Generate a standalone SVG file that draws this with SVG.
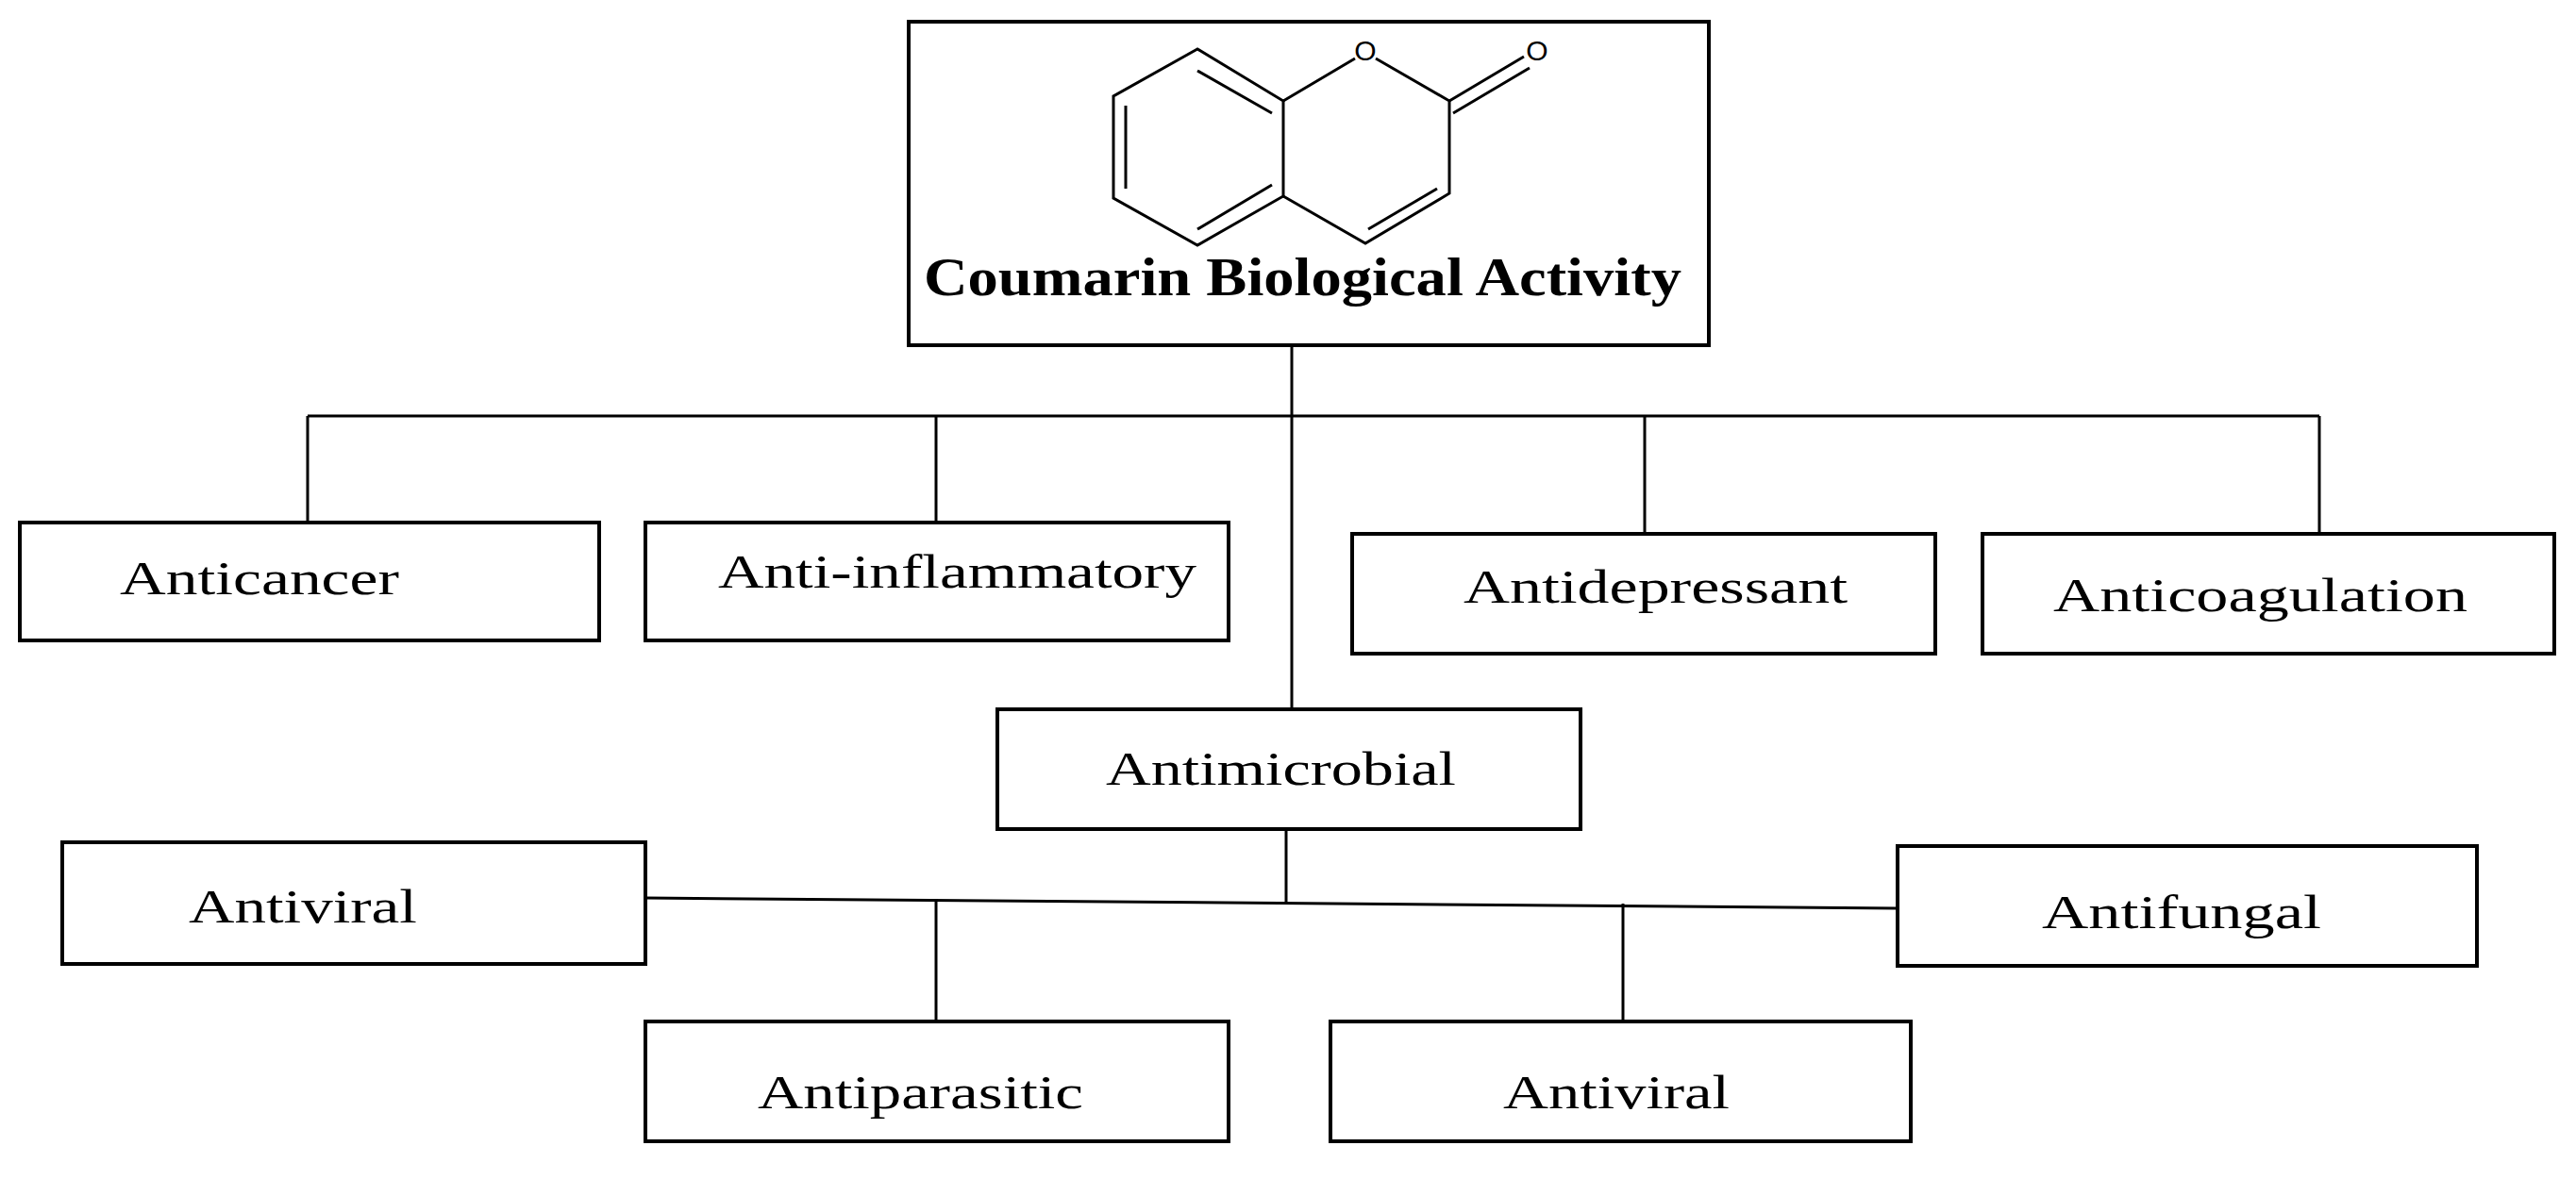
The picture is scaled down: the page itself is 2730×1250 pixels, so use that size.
<svg xmlns="http://www.w3.org/2000/svg" width="2730" height="1250" viewBox="0 0 2730 1250">
<style>
.box{fill:#fff;stroke:#000;stroke-width:4}
.t{font-family:"Liberation Serif",serif;font-size:50px;fill:#000}
.title{font-family:"Liberation Serif",serif;font-size:58px;font-weight:bold;fill:#000}
.c{stroke:#000;stroke-width:3;fill:none}
.m{stroke:#000;stroke-width:3;fill:none;stroke-linejoin:miter}
.o{font-family:"Liberation Sans",sans-serif;font-size:30px;fill:#000}
</style>
<rect width="2730" height="1250" fill="#fff"/>
<g id="connectors">
<path class="c" d="M1369 366V752"/>
<path class="c" d="M326 441H2458"/>
<path class="c" d="M326 441V554M992 441V554M1743 441V566M2458 441V566"/>
<path class="c" d="M1363 879V958"/>
<path class="c" d="M684 952L2011 963"/>
<path class="c" d="M992 953V1083M1720 958V1083"/>
</g>
<g id="root">
<rect class="box" x="963" y="23" width="848" height="343"/>
<g id="coumarin">
<path class="m" d="M1269 52L1180 102L1180 210L1269 260L1360 208L1360 107Z"/>
<path class="m" d="M1193 112V200M1269 75L1348 120M1348 196L1269 243"/>
<path class="m" d="M1360 107L1436 62M1458 62L1536 107L1536 205L1447 258L1360 208"/>
<path class="m" d="M1523 200L1450 243"/>
<path class="m" d="M1536 107L1615 60M1540 120L1621 72"/>
<text class="o" x="1447" y="64" text-anchor="middle">O</text>
<text class="o" x="1629" y="64" text-anchor="middle">O</text>
</g>
<text class="title" x="979" y="313" textLength="803" lengthAdjust="spacingAndGlyphs">Coumarin Biological Activity</text>
</g>
<g id="anticancer"><rect class="box" x="21" y="554" width="614" height="125"/><text class="t" x="127" y="630" textLength="296" lengthAdjust="spacingAndGlyphs">Anticancer</text></g>
<g id="antiinflammatory"><rect class="box" x="684" y="554" width="618" height="125"/><text class="t" x="761" y="623" textLength="507" lengthAdjust="spacingAndGlyphs">Anti-inflammatory</text></g>
<g id="antidepressant"><rect class="box" x="1433" y="566" width="618" height="127"/><text class="t" x="1551" y="639" textLength="407" lengthAdjust="spacingAndGlyphs">Antidepressant</text></g>
<g id="anticoagulation"><rect class="box" x="2101" y="566" width="606" height="127"/><text class="t" x="2176" y="648" textLength="439" lengthAdjust="spacingAndGlyphs">Anticoagulation</text></g>
<g id="antimicrobial"><rect class="box" x="1057" y="752" width="618" height="127"/><text class="t" x="1172" y="832" textLength="371" lengthAdjust="spacingAndGlyphs">Antimicrobial</text></g>
<g id="antiviral1"><rect class="box" x="66" y="893" width="618" height="129"/><text class="t" x="200" y="978" textLength="242" lengthAdjust="spacingAndGlyphs">Antiviral</text></g>
<g id="antifungal"><rect class="box" x="2011" y="897" width="614" height="127"/><text class="t" x="2164" y="984" textLength="296" lengthAdjust="spacingAndGlyphs">Antifungal</text></g>
<g id="antiparasitic"><rect class="box" x="684" y="1083" width="618" height="127"/><text class="t" x="803" y="1175" textLength="345" lengthAdjust="spacingAndGlyphs">Antiparasitic</text></g>
<g id="antiviral2"><rect class="box" x="1410" y="1083" width="615" height="127"/><text class="t" x="1593" y="1175" textLength="240" lengthAdjust="spacingAndGlyphs">Antiviral</text></g>
</svg>
